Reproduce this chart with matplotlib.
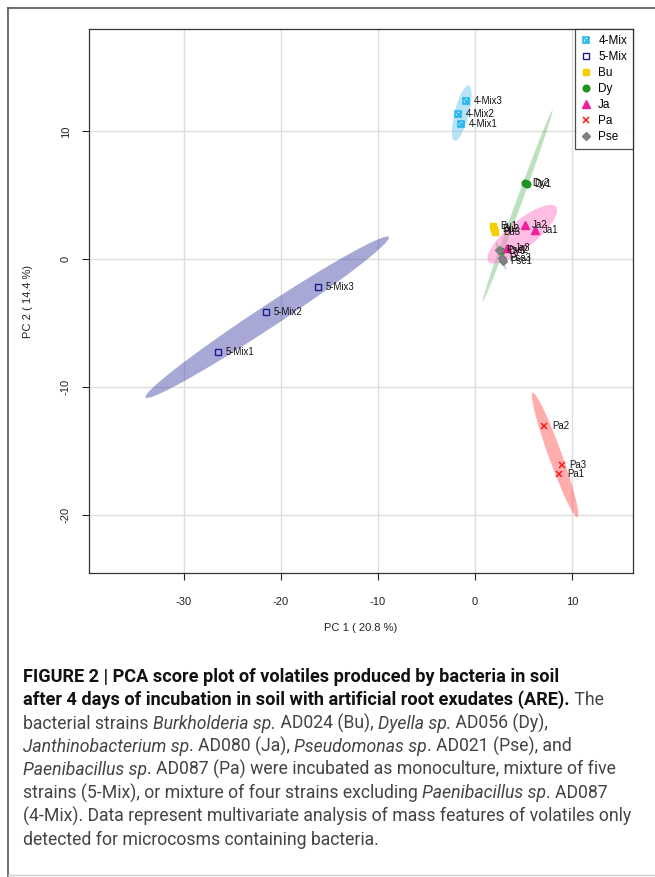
import numpy as np
import matplotlib
matplotlib.use("Agg")
import matplotlib.pyplot as plt
from matplotlib.patches import Ellipse
from matplotlib.lines import Line2D
from matplotlib.legend_handler import HandlerTuple

plt.rcParams["font.family"] = ["Liberation Sans", "DejaVu Sans"]
plt.rcParams["axes.unicode_minus"] = False

# PCA scores
sample_labels = ["4-Mix1", "4-Mix2", "4-Mix3",
                 "5-Mix1", "5-Mix2", "5-Mix3",
                 "Bu1", "Bu2", "Bu3",
                 "Dy1", "Dy2", "Dy3",
                 "Ja1", "Ja2", "Ja3",
                 "Pa1", "Pa2", "Pa3",
                 "Pse1", "Pse2", "Pse3"]
sample_groups = ["4-Mix"] * 3 + ["5-Mix"] * 3 + ["Bu"] * 3 + ["Dy"] * 3 + \
                ["Ja"] * 3 + ["Pa"] * 3 + ["Pse"] * 3
pc1 = [-1.43, -1.74, -0.92,
       -26.46, -21.59, -16.20,
       1.86, 1.99, 2.09,
       5.34, 5.14, 2.69,
       6.22, 5.12, 3.31,
       8.69, 7.15, 8.97,
       2.85, 2.44, 2.77]
pc2 = [10.57, 11.35, 12.34,
       -7.27, -4.12, -2.16,
       2.58, 2.34, 2.11,
       5.88, 6.00, 0.65,
       2.27, 2.71, 0.91,
       -16.74, -13.02, -16.09,
       -0.12, 0.76, 0.12]

groups = ["4-Mix", "5-Mix", "Bu", "Dy", "Ja", "Pa", "Pse"]
point_colors = ["#1AB2EC", "#1C1C8C", "#F5CF00", "#1E931E", "#F0209A", "#FF1A1A", "#7F7F7F"]
fill_colors = ["#7FCDF0", "#5252B0", "#FFE94D", "#6DBE6D", "#FF7DCB", "#FF6B6B", "#A0A0A0"]
fill_alpha = [0.55, 0.5, 0.35, 0.45, 0.5, 0.55, 0.5]

x_ticks = [-30, -20, -10, 0, 10]
y_ticks = [-20, -10, 0, 10]

W, H = 655, 877
fig = plt.figure(figsize=(W / 100, H / 100), dpi=100)
ax = fig.add_axes([89 / W, 1 - 573 / H, (633 - 89) / W, (573 - 29) / H])

df_x = np.array(pc1)
df_y = np.array(pc2)
grp = np.array(sample_groups)

# 95% normal ellipse for each group
k = np.sqrt(5.991)
for g, fc, a in zip(groups, fill_colors, fill_alpha):
    xs, ys = df_x[grp == g], df_y[grp == g]
    cov = np.cov(xs, ys)
    vals, vecs = np.linalg.eigh(cov)
    ang = np.degrees(np.arctan2(vecs[1, 1], vecs[0, 1]))
    e = Ellipse((xs.mean(), ys.mean()), 2 * k * np.sqrt(vals[1]), 2 * k * np.sqrt(max(vals[0], 0.004)),
                angle=ang, facecolor=fc, alpha=a, edgecolor="none", zorder=2)
    ax.add_patch(e)

handles = []
for g, c in zip(groups, point_colors):
    m = grp == g
    xs, ys = df_x[m], df_y[m]
    if g == "4-Mix":
        ax.plot(xs, ys, ls="none", marker="s", ms=5, mfc="none", mec=c, mew=1.1, zorder=4)
        ax.plot(xs, ys, ls="none", marker="x", ms=4, mec=c, mew=0.9, zorder=4)
        h = (Line2D([], [], ls="none", marker="s", ms=5, mfc="none", mec=c, mew=1.1),
             Line2D([], [], ls="none", marker="x", ms=4, mec=c, mew=0.9))
    elif g == "5-Mix":
        ax.plot(xs, ys, ls="none", marker="s", ms=4.5, mfc="none", mec=c, mew=1.0, zorder=4)
        h = Line2D([], [], ls="none", marker="s", ms=4.5, mfc="none", mec=c, mew=1.0)
    elif g == "Bu":
        ax.plot(xs, ys, ls="none", marker="s", ms=4.5, color=c, mec=c, zorder=4)
        h = Line2D([], [], ls="none", marker="s", ms=4.5, color=c)
    elif g == "Dy":
        ax.plot(xs, ys, ls="none", marker="o", ms=4.8, color=c, zorder=4)
        h = Line2D([], [], ls="none", marker="o", ms=4.8, color=c)
    elif g == "Ja":
        ax.plot(xs, ys, ls="none", marker="^", ms=5.2, color=c, zorder=4)
        h = Line2D([], [], ls="none", marker="^", ms=5.2, color=c)
    elif g == "Pa":
        ax.plot(xs, ys, ls="none", marker="x", ms=5, mec=c, mew=1.1, zorder=4)
        h = Line2D([], [], ls="none", marker="x", ms=5, mec=c, mew=1.1)
    else:
        ax.plot(xs, ys, ls="none", marker="D", ms=3.6, color=c, zorder=4)
        h = Line2D([], [], ls="none", marker="D", ms=3.6, color=c)
    handles.append(h)

for lab, x, y in zip(sample_labels, pc1, pc2):
    ax.annotate(lab, (x, y), xytext=(5.5, 0), textcoords="offset points",
                fontsize=6.9, va="center", ha="left", color="#111111", zorder=5)

ax.set_xlim(-39.8, 16.3)
ax.set_ylim(-24.5, 18.0)
ax.set_xticks(x_ticks)
ax.set_yticks(y_ticks)
ax.grid(True, color="#DDDDDD", lw=1.0, zorder=0)
ax.set_axisbelow(True)
ax.tick_params(axis="both", length=5, width=0.8, labelsize=8, colors="#222222")
ax.tick_params(axis="x", pad=12)
ax.tick_params(axis="y", pad=8)
for t in ax.get_yticklabels():
    t.set_rotation(90)
    t.set_va("center")
for s in ax.spines.values():
    s.set_color("#333333")
    s.set_linewidth(0.9)
ax.set_xlabel("PC 1 ( 20.8 %)", fontsize=8, labelpad=12, color="#222222")
ax.set_ylabel("PC 2 ( 14.4 %)", fontsize=8, labelpad=20, color="#222222")

leg = ax.legend(handles, groups, loc="upper right", fontsize=8.5, frameon=True, fancybox=False,
                borderaxespad=0, handlelength=1.0, handletextpad=0.5, labelspacing=0.34,
                borderpad=0.5, handler_map={tuple: HandlerTuple(ndivide=1, pad=0)})
leg.get_frame().set_edgecolor("#222222")
leg.get_frame().set_linewidth(0.9)
leg.set_zorder(10)

# outer frame of the figure panel
fig.add_artist(Line2D([8 / W, 1], [1 - 8 / H, 1 - 8 / H], transform=fig.transFigure, color="#555555", lw=1.2))
fig.add_artist(Line2D([8 / W, 8 / W], [1 - 8 / H, 0], transform=fig.transFigure, color="#555555", lw=1.2))
fig.add_artist(Line2D([8 / W, 1], [1 - 875 / H, 1 - 875 / H], transform=fig.transFigure, color="#CCCCCC", lw=1.0))

# caption, one line at a time with mixed styles
caption_lines = [
    [("FIGURE 2 | PCA score plot of volatiles produced by bacteria in soil", "b")],
    [("after 4 days of incubation in soil with artificial root exudates (ARE).", "b"), (" The", "r")],
    [("bacterial strains ", "r"), ("Burkholderia sp.", "i"), (" AD024 (Bu), ", "r"),
     ("Dyella sp.", "i"), (" AD056 (Dy),", "r")],
    [("Janthinobacterium sp", "i"), (". AD080 (Ja), ", "r"), ("Pseudomonas sp", "i"),
     (". AD021 (Pse), and", "r")],
    [("Paenibacillus sp", "i"), (". AD087 (Pa) were incubated as monoculture, mixture of five", "r")],
    [("strains (5-Mix), or mixture of four strains excluding ", "r"), ("Paenibacillus sp", "i"),
     (". AD087", "r")],
    [("(4-Mix). Data represent multivariate analysis of mass features of volatiles only", "r")],
    [("detected for microcosms containing bacteria.", "r")],
]

fig.canvas.draw()
renderer = fig.canvas.get_renderer()
cap_font = ["Roboto", "DejaVu Sans"]


def style_kw(size, style):
    kw = dict(fontsize=size, family=cap_font)
    if style == "b":
        kw["weight"] = "bold"
    if style == "i":
        kw["style"] = "italic"
    return kw


def text_width(s, size, style):
    kw = style_kw(size, style)
    t1 = fig.text(0, 0, "|" + s + "|", **kw)
    t2 = fig.text(0, 0, "||", **kw)
    w = t1.get_window_extent(renderer).width - t2.get_window_extent(renderer).width
    t1.remove()
    t2.remove()
    return w


# fit sizes to the widths of the reference lines
bold_size = 10 * 537 / text_width(caption_lines[0][0][0], 10, "b")
reg_size = 10 * 609 / text_width(caption_lines[6][0][0], 10, "r")

x0 = 23
y_base = 682
for i, parts in enumerate(caption_lines):
    x = x0
    y = y_base + i * 23.3
    for s, style in parts:
        size = bold_size if style == "b" else reg_size
        kw = style_kw(size, style)
        kw.update(va="baseline", ha="left", color="#111111" if style == "b" else "#444444")
        fig.text(x / W, 1 - y / H, s.lstrip(" ") if x == x0 else s, **kw)
        x += text_width(s, size, style)

fig.savefig("out.png", dpi=100)
